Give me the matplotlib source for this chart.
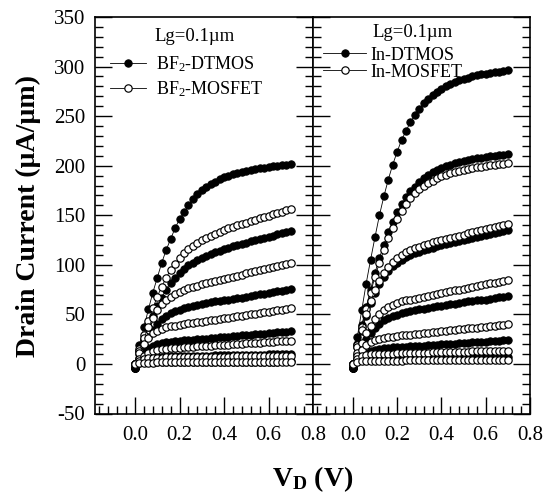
import matplotlib
matplotlib.use("Agg")
import matplotlib.pyplot as plt
from matplotlib.ticker import MultipleLocator

plt.rcParams['font.family'] = 'Liberation Serif'
plt.rcParams['mathtext.fontset'] = 'custom'
plt.rcParams['mathtext.rm'] = 'Liberation Serif'
plt.rcParams['mathtext.it'] = 'Liberation Serif:italic'
plt.rcParams['mathtext.bf'] = 'Liberation Serif:bold'
plt.rcParams['axes.unicode_minus'] = False

# drain voltage sweep (V)
vd = [0.00, 0.02, 0.04, 0.06, 0.08, 0.10, 0.12, 0.14, 0.16, 0.18,
      0.20, 0.22, 0.24, 0.26, 0.28, 0.30, 0.32, 0.34, 0.36, 0.38,
      0.40, 0.42, 0.44, 0.46, 0.48, 0.50, 0.52, 0.54, 0.56, 0.58,
      0.60, 0.62, 0.64, 0.66, 0.68, 0.70]

# BF2 implanted devices, drain current in uA/um (one list per gate bias)
bf2_dtmos_1 = [-4, 19, 37, 55, 72, 87, 102, 115, 126, 137, 146, 153, 160, 166, 171, 175, 179, 182,
               184, 187, 189, 190, 192, 193, 194, 195, 196, 197, 198, 198, 199, 200, 200, 201, 201, 202]
bf2_dtmos_2 = [-4, 13, 25, 37, 48, 58, 67, 75, 82, 87, 92, 96, 100, 102, 105, 107, 109, 111,
               113, 114, 116, 117, 119, 120, 121, 122, 124, 125, 126, 127, 128, 129, 131, 132, 133, 134]
bf2_dtmos_3 = [-4, 10, 19, 27, 34, 40, 45, 48, 51, 53, 54, 56, 57, 58, 59, 60, 61, 62,
               63, 63, 64, 65, 66, 67, 67, 68, 69, 70, 71, 71, 72, 73, 74, 74, 75, 76]
bf2_dtmos_4 = [-4, 6.4, 11.8, 15.7, 18.2, 19.9, 21.0, 21.7, 22.3, 22.8, 23.2, 23.7, 24.1, 24.4, 24.8, 25.2, 25.6, 26.0,
               26.4, 26.8, 27.2, 27.6, 28.0, 28.3, 28.7, 29.1, 29.5, 29.9, 30.3, 30.7, 31.1, 31.4, 31.8, 32.2, 32.6, 33.0]
bf2_dtmos_5 = [-4, 3.7, 5.9, 6.8, 7.2, 7.4, 7.5, 7.6, 7.7, 7.8, 7.9, 8.0, 8.1, 8.1, 8.2, 8.3, 8.4, 8.5,
               8.6, 8.6, 8.7, 8.8, 8.9, 9.0, 9.1, 9.2, 9.2, 9.3, 9.4, 9.5, 9.6, 9.7, 9.7, 9.8, 9.9, 10.0]
bf2_dtmos_6 = [-4, 0.9, 1.5, 1.7, 1.8, 1.9, 1.9, 1.9, 1.9, 2.0, 2.0, 2.0, 2.0, 2.0, 2.1, 2.1, 2.1, 2.1,
               2.1, 2.2, 2.2, 2.2, 2.2, 2.2, 2.3, 2.3, 2.3, 2.3, 2.4, 2.4, 2.4, 2.4, 2.4, 2.5, 2.5, 2.5]

bf2_mosfet_1 = [0, 15, 29, 43, 56, 68, 78, 87, 95, 101, 107, 112, 116, 119, 122, 125, 127, 129,
                131, 133, 135, 137, 138, 140, 141, 142, 144, 145, 147, 148, 149, 151, 152, 153, 155, 156]
bf2_mosfet_2 = [0, 13, 26, 37, 46, 54, 60, 64, 68, 71, 73, 75, 77, 78, 79, 81, 82, 83,
                84, 85, 86, 87, 88, 89, 90, 92, 93, 94, 95, 96, 97, 98, 99, 100, 101, 102]
bf2_mosfet_3 = [0, 10.8, 20.0, 26.6, 31.0, 33.7, 35.6, 36.9, 37.8, 38.7, 39.4, 40.1, 40.8, 41.5, 42.2, 42.8, 43.5, 44.1,
                44.8, 45.5, 46.1, 46.8, 47.4, 48.1, 48.8, 49.4, 50.1, 50.7, 51.4, 52.0, 52.7, 53.4, 54.0, 54.7, 55.3, 56.0]
bf2_mosfet_4 = [0, 4.5, 8.4, 11.2, 13.0, 14.2, 14.9, 15.5, 15.9, 16.2, 16.5, 16.8, 17.1, 17.4, 17.7, 18.0, 18.2, 18.5,
                18.8, 19.1, 19.4, 19.6, 19.9, 20.2, 20.5, 20.7, 21.0, 21.3, 21.6, 21.8, 22.1, 22.4, 22.7, 22.9, 23.2, 23.5]
bf2_mosfet_5 = [0, 3.1, 5.0, 5.8, 6.1, 6.3, 6.4, 6.5, 6.6, 6.6, 6.7, 6.8, 6.9, 6.9, 7.0, 7.1, 7.1, 7.2,
                7.3, 7.4, 7.4, 7.5, 7.6, 7.6, 7.7, 7.8, 7.9, 7.9, 8.0, 8.1, 8.1, 8.2, 8.3, 8.4, 8.4, 8.5]
bf2_mosfet_6 = [0, 0.7, 1.2, 1.4, 1.4, 1.5, 1.5, 1.5, 1.5, 1.6, 1.6, 1.6, 1.6, 1.6, 1.6, 1.7, 1.7, 1.7,
                1.7, 1.7, 1.7, 1.8, 1.8, 1.8, 1.8, 1.8, 1.8, 1.9, 1.9, 1.9, 1.9, 1.9, 1.9, 2.0, 2.0, 2.0]

# In implanted devices
in_dtmos_1 = [-4, 27, 54, 81, 105, 128, 150, 169, 186, 201, 214, 226, 235, 244, 251, 257, 263, 267,
              271, 274, 277, 280, 282, 284, 286, 287, 288, 290, 291, 292, 293, 294, 295, 295, 296, 297]
in_dtmos_2 = [-4, 20, 39, 57, 75, 92, 107, 120, 133, 143, 153, 161, 168, 174, 179, 184, 188, 191,
              194, 196, 198, 200, 201, 203, 204, 205, 206, 207, 208, 208, 209, 210, 210, 211, 211, 212]
in_dtmos_3 = [-4, 17, 33, 48, 61, 72, 81, 88, 94, 99, 102, 105, 108, 110, 112, 113, 115, 116,
              117, 119, 120, 121, 122, 123, 124, 125, 126, 127, 128, 129, 130, 131, 132, 133, 134, 135]
in_dtmos_4 = [-4, 9, 17, 25, 31, 36, 40, 44, 46, 48, 49, 51, 52, 53, 54, 55, 55, 56,
              57, 58, 58, 59, 60, 60, 61, 62, 63, 63, 64, 65, 65, 66, 67, 68, 68, 69]
in_dtmos_5 = [-4, 4.6, 8.6, 11.4, 13.3, 14.5, 15.2, 15.8, 16.2, 16.6, 16.9, 17.2, 17.5, 17.8, 18.1, 18.4, 18.6, 18.9,
              19.2, 19.5, 19.8, 20.0, 20.3, 20.6, 20.9, 21.2, 21.5, 21.7, 22.0, 22.3, 22.6, 22.9, 23.2, 23.4, 23.7, 24.0]
in_dtmos_6 = [-4, 2.6, 4.1, 4.8, 5.1, 5.2, 5.3, 5.3, 5.4, 5.5, 5.5, 5.6, 5.6, 5.7, 5.8, 5.8, 5.9, 5.9,
              6.0, 6.1, 6.1, 6.2, 6.2, 6.3, 6.3, 6.4, 6.5, 6.5, 6.6, 6.6, 6.7, 6.8, 6.8, 6.9, 6.9, 7.0]

in_mosfet_1 = [0, 19, 37, 55, 72, 88, 102, 115, 127, 137, 146, 154, 161, 167, 172, 176, 180, 183,
               185, 188, 190, 191, 193, 194, 195, 196, 197, 198, 199, 199, 200, 201, 201, 202, 202, 203]
in_mosfet_2 = [0, 17, 34, 50, 63, 75, 84, 92, 98, 103, 107, 110, 113, 115, 117, 118, 120, 121,
               123, 124, 125, 126, 127, 128, 129, 130, 132, 133, 134, 135, 136, 137, 138, 139, 140, 141]
in_mosfet_3 = [0, 11, 21, 31, 38, 45, 50, 54, 57, 59, 61, 63, 64, 65, 66, 67, 68, 69,
               70, 71, 72, 73, 74, 75, 75, 76, 77, 78, 79, 80, 81, 82, 82, 83, 84, 85]
in_mosfet_4 = [0, 7.7, 14.3, 19.0, 22.1, 24.1, 25.4, 26.3, 27.0, 27.6, 28.2, 28.7, 29.2, 29.6, 30.1, 30.6, 31.1, 31.5,
               32.0, 32.5, 32.9, 33.4, 33.9, 34.4, 34.8, 35.3, 35.8, 36.2, 36.7, 37.2, 37.6, 38.1, 38.6, 39.1, 39.5, 40.0]
in_mosfet_5 = [0, 5.0, 7.9, 9.2, 9.8, 10.0, 10.2, 10.3, 10.4, 10.5, 10.7, 10.8, 10.9, 11.0, 11.1, 11.2, 11.3, 11.4,
               11.6, 11.7, 11.8, 11.9, 12.0, 12.1, 12.2, 12.4, 12.5, 12.6, 12.7, 12.8, 12.9, 13.0, 13.2, 13.3, 13.4, 13.5]
in_mosfet_6 = [0, 1.6, 2.5, 2.9, 3.1, 3.2, 3.2, 3.3, 3.3, 3.4, 3.4, 3.4, 3.5, 3.5, 3.5, 3.6, 3.6, 3.6,
               3.7, 3.7, 3.8, 3.8, 3.8, 3.9, 3.9, 3.9, 4.0, 4.0, 4.0, 4.1, 4.1, 4.2, 4.2, 4.2, 4.3, 4.3]

bf2_dtmos = [bf2_dtmos_1, bf2_dtmos_2, bf2_dtmos_3, bf2_dtmos_4, bf2_dtmos_5, bf2_dtmos_6]
bf2_mosfet = [bf2_mosfet_1, bf2_mosfet_2, bf2_mosfet_3, bf2_mosfet_4, bf2_mosfet_5, bf2_mosfet_6]
in_dtmos = [in_dtmos_1, in_dtmos_2, in_dtmos_3, in_dtmos_4, in_dtmos_5, in_dtmos_6]
in_mosfet = [in_mosfet_1, in_mosfet_2, in_mosfet_3, in_mosfet_4, in_mosfet_5, in_mosfet_6]

W, H = 549, 500
fig = plt.figure(figsize=(W / 100, H / 100), dpi=100)
ax_l = fig.add_axes([95 / W, 86.5 / H, 218 / W, 396.5 / H])
ax_r = fig.add_axes([313 / W, 86.5 / H, 217 / W, 396.5 / H])


def draw_family(ax, dtmos, mosfet):
    filled = []
    for y in dtmos:
        ln, = ax.plot(vd, y, color='black', lw=0.6, marker='o', ms=5.3,
                      mfc='black', mec='black', mew=0.7)
        filled.append(ln)
    hollow = []
    for y in mosfet:
        ln, = ax.plot(vd, y, color='black', lw=0.6, marker='o', ms=5.3,
                      mfc='white', mec='black', mew=0.85)
        hollow.append(ln)
    return filled[0], hollow[0]


ld, lm = draw_family(ax_l, bf2_dtmos, bf2_mosfet)
rd, rm = draw_family(ax_r, in_dtmos, in_mosfet)

for ax in (ax_l, ax_r):
    ax.set_xlim(-0.18, 0.8)
    ax.set_ylim(-50, 350)
    ax.xaxis.set_major_locator(MultipleLocator(0.2))
    ax.xaxis.set_minor_locator(MultipleLocator(0.04))
    ax.yaxis.set_major_locator(MultipleLocator(50))
    ax.yaxis.set_minor_locator(MultipleLocator(10))
    ax.tick_params(which='both', direction='in', left=True, right=True,
                   top=False, bottom=True, width=1.0, labelsize=15)
    ax.tick_params(which='major', length=12)
    ax.tick_params(which='minor', length=6)
    ax.tick_params(axis='x', pad=9)
    ax.tick_params(axis='y', pad=7)
    for s in ax.spines.values():
        s.set_linewidth(1.2)

ax_r.tick_params(labelleft=False)

ax_l.text(0.275, 0.952, 'Lg=0.1µm', transform=ax_l.transAxes, fontsize=13.5,
          ha='left', va='center')
ax_r.text(0.276, 0.962, 'Lg=0.1µm', transform=ax_r.transAxes, fontsize=13.5,
          ha='left', va='center')

ax_l.legend([ld, lm], [r'BF$_2$-DTMOS', r'BF$_2$-MOSFET'], loc='upper left',
            bbox_to_anchor=(0.069, 0.905), frameon=False, fontsize=13,
            handlelength=2.0, handletextpad=0.55, labelspacing=0.3,
            borderpad=0, borderaxespad=0)
ax_r.legend([rd, rm], ['In-DTMOS', 'In-MOSFET'], loc='upper left',
            bbox_to_anchor=(0.046, 0.925), frameon=False, fontsize=13,
            handlelength=2.4, handletextpad=0.25, labelspacing=0.0,
            borderpad=0, borderaxespad=0)

fig.text(28 / W, 0.568, 'Drain Current (µA/µm)', rotation=90, ha='center',
         va='center', fontsize=20, fontweight='bold')
fig.text(313 / W, 0.028, r'$\mathbf{V_D}$ (V)', ha='center', va='baseline',
         fontsize=20, fontweight='bold')

fig.savefig('out.png', dpi=100)
